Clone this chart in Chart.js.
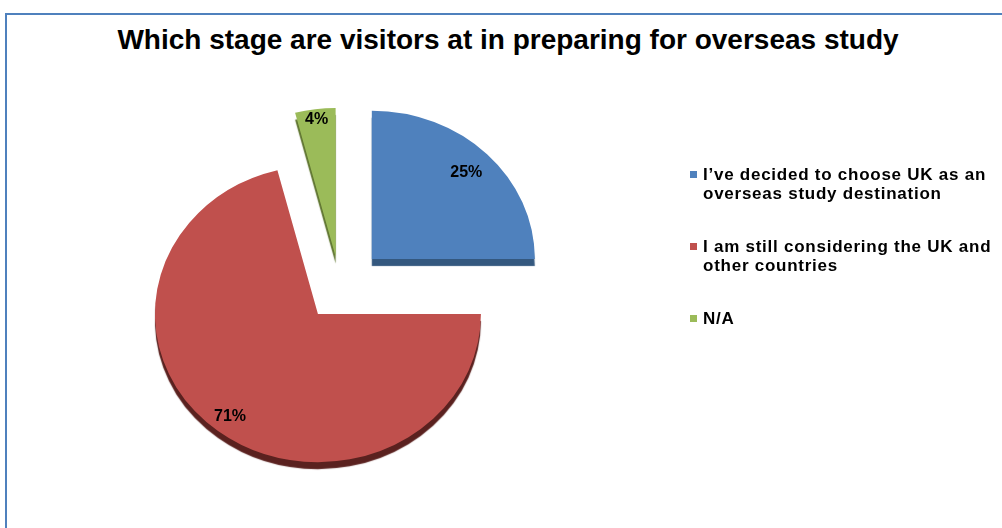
<!DOCTYPE html>
<html>
<head>
<meta charset="utf-8">
<script src="https://cdn.jsdelivr.net/npm/chart.js@4.4.1/dist/chart.umd.min.js"></script>
<style>
    html, body { margin: 0; padding: 0; background: #fff; }
    body { width: 1002px; height: 528px; position: relative; overflow: hidden; font-family: "Liberation Sans", Arial, sans-serif; }
    #frame { position: absolute; left: 5px; top: 13px; width: 1100px; height: 600px; border-left: 2px solid #4f81bd; border-top: 2px solid #4f81bd; }
    #title { position: absolute; left: 8px; top: 26px; width: 1000px; text-align: center; font-weight: bold; font-size: 28px; line-height: 28px; color: #000; white-space: nowrap; }
    #chart { position: absolute; left: 0; top: 0; }
    #legend { position: absolute; left: 690px; top: 0; }
    .item { position: absolute; left: 0; white-space: nowrap; }
    .box { position: absolute; left: 0; top: 5px; width: 7px; height: 7px; }
    .txt { position: absolute; left: 13px; top: 0; font-weight: bold; font-size: 17px; line-height: 18.5px; letter-spacing: 0.75px; color: #000; }
</style>
</head>
<body>
<div id="frame"></div>
<div id="title">Which stage are visitors at in preparing for overseas study</div>
<canvas id="chart" width="1002" height="528"></canvas>
<div id="legend"></div>
<script>
// Survey answers and their share of visitors (%)
const categories = [
    ['I\u2019ve decided to choose UK as an', 'overseas study destination'],
    ['I am still considering the UK and', 'other countries'],
    ['N/A']
];
const shares = [25, 71, 4];

const colors = ['#4f81bd', '#c0504d', '#9bbb59'];
const sideColors = ['#34587f', '#5a211f', '#5f7530'];
// how far each slice is pulled out of the pie, px
const explode = [45, 36, 35];
const labelDepth = [0.82, 0.88, 0.93];

// pie is squashed vertically to look tilted
const tilt = 0.91;
const center = { x: 340, y: 288 };

function sliceShift(arc, i) {
    const mid = (arc.startAngle + arc.endAngle) / 2;
    return { dx: Math.cos(mid) * explode[i], dy: Math.sin(mid) * explode[i], mid };
}

const tiltPie = {
    id: 'tiltPie',
    beforeDatasetsDraw(chart) {
        const ctx = chart.ctx;
        ctx.save();
        ctx.translate(center.x, center.y);
        ctx.scale(1, tilt);
        ctx.translate(-center.x, -center.y);
    },
    beforeDatasetDraw(chart, args) {
        // draw slices by hand: pulled out, each with its own dark edge below
        const ctx = chart.ctx;
        args.meta.data.forEach((arc, i) => {
            const s = sliceShift(arc, i);
            ctx.save();
            ctx.translate(s.dx, s.dy);
            ctx.shadowColor = sideColors[i];
            ctx.shadowOffsetX = 0;
            ctx.shadowOffsetY = 7;
            ctx.shadowBlur = 1;
            arc.draw(ctx, chart.chartArea);
            ctx.restore();
        });
        return false;
    },
    afterDatasetsDraw(chart) {
        const ctx = chart.ctx;
        ctx.restore();

        // percentage labels
        const meta = chart.getDatasetMeta(0);
        ctx.save();
        ctx.font = 'bold 16px "Liberation Sans", Arial, sans-serif';
        ctx.fillStyle = '#000';
        ctx.textAlign = 'center';
        ctx.textBaseline = 'middle';
        meta.data.forEach((arc, i) => {
            const s = sliceShift(arc, i);
            const d = arc.outerRadius * labelDepth[i];
            const x = arc.x + s.dx + Math.cos(s.mid) * d;
            const y = arc.y + s.dy + Math.sin(s.mid) * d;
            const ys = center.y + (y - center.y) * tilt;
            ctx.fillText(shares[i] + '%', x, ys);
        });
        ctx.restore();
    }
};

new Chart(document.getElementById('chart'), {
    type: 'pie',
    data: {
        labels: categories,
        datasets: [{
            data: shares,
            backgroundColor: colors,
            borderWidth: 0,
            clip: false
        }]
    },
    options: {
        responsive: false,
        animation: false,
        radius: 163,
        layout: { padding: { left: 0, right: 322, top: 48, bottom: 0 } },
        plugins: {
            legend: { display: false },
            title: { display: false },
            tooltip: { enabled: false }
        }
    },
    plugins: [tiltPie]
});

// legend on the right
const legend = document.getElementById('legend');
const itemTops = [166, 238, 310];
categories.forEach((lines, i) => {
    const item = document.createElement('div');
    item.className = 'item';
    item.style.top = itemTops[i] + 'px';
    item.innerHTML = '<div class="box" style="background:' + colors[i] + '"></div>' +
        '<div class="txt">' + lines.join('<br>') + '</div>';
    legend.appendChild(item);
});
</script>
</body>
</html>
